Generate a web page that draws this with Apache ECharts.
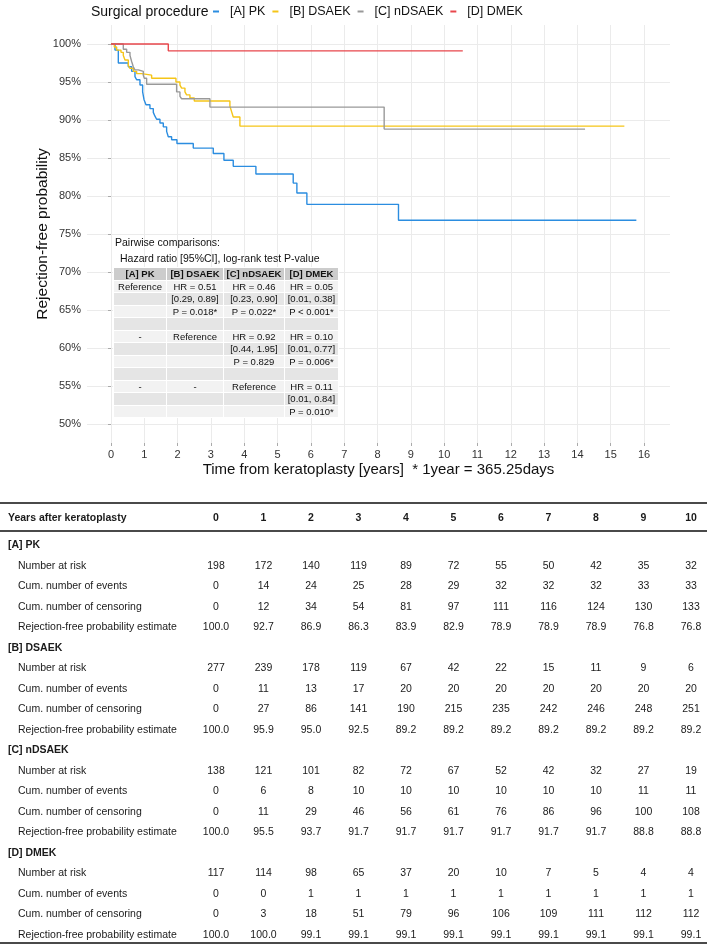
<!DOCTYPE html>
<html><head><meta charset="utf-8">
<script src="https://cdn.jsdelivr.net/npm/echarts@6/dist/echarts.min.js"></script>
<style>
html,body{margin:0;padding:0;background:#fff;}
body{width:707px;height:946px;position:relative;overflow:hidden;font-family:"Liberation Sans",Arial,sans-serif;color:#111;}
#chart{position:absolute;left:0;top:0;width:707px;height:490px;}
.ptxt{position:absolute;font-size:10.5px;white-space:nowrap;z-index:2;line-height:14px;}
#ptable{position:absolute;left:113px;top:267px;border-collapse:collapse;z-index:2;font-size:9.5px;}
#ptable td{border:1px solid #fff;height:11.5px;line-height:11.5px;padding:0;text-align:center;white-space:nowrap;}
#ptable tr.h td{background:#cccccc;font-weight:bold;}
#ptable tr.o td{background:#f2f2f2;}
#ptable tr.e td{background:#e5e5e5;}
#btab{position:absolute;left:0;top:0;width:707px;height:946px;font-size:10.5px;color:#1a1a1a;}
.rule{position:absolute;left:0;width:707px;height:2px;background:#4a4a4a;}
.cell{position:absolute;height:14px;line-height:14px;white-space:nowrap;}
.val{width:50px;text-align:center;}
.b{font-weight:bold;}
</style></head>
<body>
<div id="chart"></div>
<div class="ptxt" style="left:115px;top:235px;">Pairwise comparisons:</div>
<div class="ptxt" style="left:120px;top:251px;">Hazard ratio [95%CI], log-rank test P-value</div>
<table id="ptable"></table>
<div id="btab"></div>
<script>
// ---------------- DATA ----------------
const groupNames = ['[A] PK', '[B] DSAEK', '[C] nDSAEK', '[D] DMEK'];
const xTicks = [0,1,2,3,4,5,6,7,8,9,10,11,12,13,14,15,16];
const yTicks = [50,55,60,65,70,75,80,85,90,95,100];

// Kaplan-Meier step points (time in years, rejection-free %)
const pkTime = [0,0.12,0.22,0.52,0.62,0.72,0.77,0.87,0.95,0.99,1.05,1.17,1.27,1.32,1.37,1.47,1.57,1.67,1.72,1.82,1.98,2.47,3.07,3.39,3.67,4.35,5.47,5.58,5.88,8.63,15.77];
const pkSurv = [100,99.2,97.5,97.0,96.4,95.7,95.3,94.6,93.7,92.7,92.0,91.5,91.0,90.5,90.1,89.6,89.1,88.5,87.8,87.4,86.9,86.3,85.6,84.7,83.9,82.9,81.7,80.4,78.9,76.8,76.8];

const dsTime = [0,0.1,0.17,0.3,0.37,0.42,0.52,0.57,0.67,0.77,0.92,1.22,1.95,2.07,2.12,2.22,2.27,2.37,2.5,3.57,3.62,3.67,3.87,15.41];
const dsSurv = [100,99.6,99.2,98.9,98.5,97.9,97.2,96.8,96.4,96.1,95.9,95.5,95.0,94.6,94.2,93.7,93.3,92.9,92.5,91.8,91.1,90.4,89.2,89.2];

const ndTime = [0,0.37,0.47,0.57,0.62,0.67,0.72,0.82,0.97,1.0,1.07,1.97,2.07,2.12,2.97,8.2,14.23];
const ndSurv = [100,99.3,98.9,98.5,97.7,97.0,96.6,96.4,95.9,95.5,94.7,93.7,93.1,92.8,91.7,88.8,88.8];

const dmTime = [0,1.72,10.56];
const dmSurv = [100,99.1,99.1];

// Pairwise comparison inset table
const pairHeader = ['[A] PK','[B] DSAEK','[C] nDSAEK','[D] DMEK'];
const pairRows = [
  ['Reference','HR = 0.51','HR = 0.46','HR = 0.05'],
  ['','[0.29, 0.89]','[0.23, 0.90]','[0.01, 0.38]'],
  ['','P = 0.018*','P = 0.022*','P < 0.001*'],
  ['','','',''],
  ['-','Reference','HR = 0.92','HR = 0.10'],
  ['','','[0.44, 1.95]','[0.01, 0.77]'],
  ['','','P = 0.829','P = 0.006*'],
  ['','','',''],
  ['-','-','Reference','HR = 0.11'],
  ['','','','[0.01, 0.84]'],
  ['','','','P = 0.010*']
];

// Number-at-risk table
const tableYears = [0,1,2,3,4,5,6,7,8,9,10];
const rowLabels = ['Number at risk','Cum. number of events','Cum. number of censoring','Rejection-free probability estimate'];
const pkRisk = [198,172,140,119,89,72,55,50,42,35,32];
const pkEvents = [0,14,24,25,28,29,32,32,32,33,33];
const pkCensor = [0,12,34,54,81,97,111,116,124,130,133];
const pkEst = ['100.0','92.7','86.9','86.3','83.9','82.9','78.9','78.9','78.9','76.8','76.8'];
const dsRisk = [277,239,178,119,67,42,22,15,11,9,6];
const dsEvents = [0,11,13,17,20,20,20,20,20,20,20];
const dsCensor = [0,27,86,141,190,215,235,242,246,248,251];
const dsEst = ['100.0','95.9','95.0','92.5','89.2','89.2','89.2','89.2','89.2','89.2','89.2'];
const ndRisk = [138,121,101,82,72,67,52,42,32,27,19];
const ndEvents = [0,6,8,10,10,10,10,10,10,11,11];
const ndCensor = [0,11,29,46,56,61,76,86,96,100,108];
const ndEst = ['100.0','95.5','93.7','91.7','91.7','91.7','91.7','91.7','91.7','88.8','88.8'];
const dmRisk = [117,114,98,65,37,20,10,7,5,4,4];
const dmEvents = [0,0,1,1,1,1,1,1,1,1,1];
const dmCensor = [0,3,18,51,79,96,106,109,111,112,112];
const dmEst = ['100.0','100.0','99.1','99.1','99.1','99.1','99.1','99.1','99.1','99.1','99.1'];

// ---------------- CHART ----------------
const colors = ['#2b8de0','#f5c518','#999999','#e8474c'];
const zip = (t,s)=>t.map((v,i)=>[v,s[i]]);
const seriesData = [zip(pkTime,pkSurv), zip(dsTime,dsSurv), zip(ndTime,ndSurv), zip(dmTime,dmSurv)];

const chart = echarts.init(document.getElementById('chart'), null, {renderer:'canvas'});
const FONT = 'Liberation Sans, Arial, sans-serif';
chart.setOption({
  animation:false,
  textStyle:{fontFamily:FONT},
  color:colors,
  title:{text:'Surgical procedure', left:86, top:0, textStyle:{fontSize:14, fontWeight:'normal', color:'#111', fontFamily:FONT}},
  legend:{left:208, top:0, icon:'rect', itemWidth:6, itemHeight:2, itemGap:7,
    textStyle:{fontSize:12.5, color:'#111', fontFamily:FONT, padding:[0,0,0,6]}, data:groupNames},
  grid:{left:87, right:37, top:25, height:418},
  xAxis:{type:'value', min:-0.72, max:16.78,
    axisLine:{show:false},
    axisTick:{show:true, length:3, customValues:xTicks, lineStyle:{color:'#aaaaaa'}},
    axisLabel:{customValues:xTicks, fontSize:11, color:'#333', margin:6, fontFamily:FONT},
    splitLine:{show:true, lineStyle:{color:'#ebebeb', width:1}},
    name:'Time from keratoplasty [years]  * 1year = 365.25days', nameLocation:'middle', nameGap:19,
    nameMoveOverlap:false,
    nameTextStyle:{fontSize:15, color:'#111', fontFamily:FONT}},
  yAxis:{type:'value', min:47.5, max:102.5,
    axisLine:{show:false},
    axisTick:{show:true, length:3, customValues:yTicks, lineStyle:{color:'#aaaaaa'}},
    axisLabel:{customValues:yTicks, fontSize:11, color:'#333', margin:6, fontFamily:FONT, formatter:v=>v+'%'},
    splitLine:{show:true, lineStyle:{color:'#ebebeb', width:1}},
    name:'Rejection-free probability', nameLocation:'middle', nameGap:36,
    nameMoveOverlap:false,
    nameTextStyle:{fontSize:15.5, color:'#111', fontFamily:FONT}},
  series: groupNames.map((n,i)=>({name:n, type:'line', step:'end', showSymbol:false, symbol:'none',
    data:seriesData[i], lineStyle:{width:1.4, color:colors[i]}, itemStyle:{color:colors[i]}, z:2+i}))
});

// ---------------- INSET TABLE ----------------
const pcolW = [54,58,62,55];
(function(){
  const t = document.getElementById('ptable');
  let h = '<tr class="h">' + pairHeader.map((c,i)=>`<td style="width:${pcolW[i]-2}px">${c}</td>`).join('') + '</tr>';
  pairRows.forEach((r,ri)=>{ h += `<tr class="${ri%2===0?'o':'e'}">` + r.map(c=>`<td>${c}</td>`).join('') + '</tr>'; });
  t.innerHTML = h;
})();

// ---------------- BOTTOM TABLE ----------------
(function(){
  const el = document.getElementById('btab');
  const col0 = 216, colStep = 47.5;
  const headerY = 517, firstY = 544, rowH = 20.5;
  let h = '';
  h += `<div class="rule" style="top:502px"></div>`;
  h += `<div class="cell b" style="left:8px;top:${headerY-7}px">Years after keratoplasty</div>`;
  tableYears.forEach((y,i)=>{ h += `<div class="cell val b" style="left:${col0+i*colStep-25}px;top:${headerY-7}px">${y}</div>`; });
  h += `<div class="rule" style="top:530px"></div>`;
  const groups = [
    [pkRisk,pkEvents,pkCensor,pkEst],
    [dsRisk,dsEvents,dsCensor,dsEst],
    [ndRisk,ndEvents,ndCensor,ndEst],
    [dmRisk,dmEvents,dmCensor,dmEst]
  ];
  let r = 0;
  groups.forEach((g,gi)=>{
    const yy = firstY + r*rowH; r++;
    h += `<div class="cell b" style="left:8px;top:${yy-7}px">${groupNames[gi]}</div>`;
    g.forEach((vals,li)=>{
      const y2 = firstY + r*rowH; r++;
      h += `<div class="cell" style="left:18px;top:${y2-7}px">${rowLabels[li]}</div>`;
      vals.forEach((v,i)=>{ h += `<div class="cell val" style="left:${col0+i*colStep-25}px;top:${y2-7}px">${v}</div>`; });
    });
  });
  h += `<div class="rule" style="top:942px"></div>`;
  el.innerHTML = h;
})();
</script>
</body></html>
